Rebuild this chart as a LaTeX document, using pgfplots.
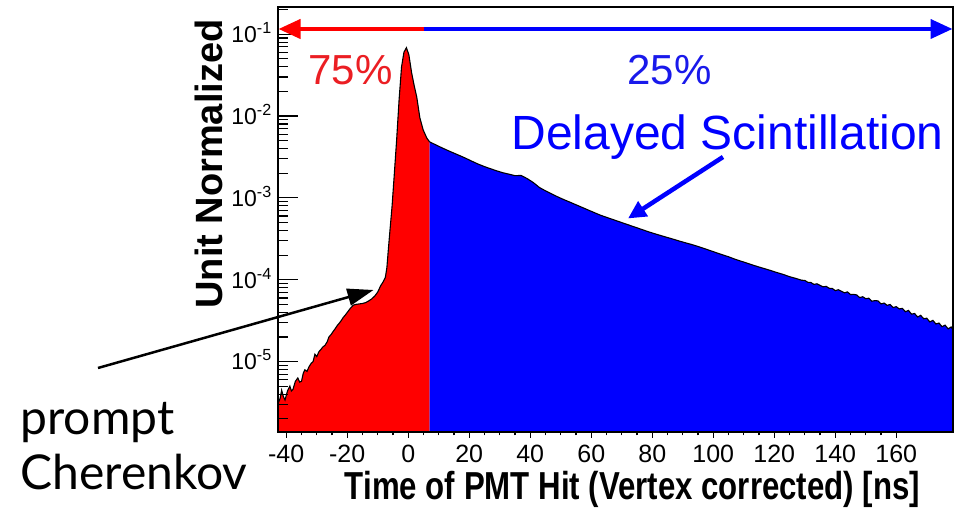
\documentclass[border=0pt]{standalone}
\usepackage{pgfplots}
\pgfplotsset{compat=1.18}
\usepackage{pgfplotstable}
\usepackage{fontspec}
\usetikzlibrary{arrows.meta}
\setmainfont{Liberation Sans}
\newfontfamily\narrowsans[FakeStretch=0.80]{Liberation Sans}
\newfontfamily\humanist{Lato}

\definecolor{histred}{RGB}{255,0,0}
\definecolor{histblue}{RGB}{0,0,255}
\definecolor{labelred}{RGB}{235,30,35}
\definecolor{labelblue}{RGB}{25,25,235}

% prompt part of the hit-time distribution (up to 7 ns)
\pgfplotstableread{
t v
-42.7 3.09e-6
-42.0 3.55e-6
-41.5 4.47e-6
-41.0 3.80e-6
-40.4 3.39e-6
-39.6 4.37e-6
-38.8 5.01e-6
-38.3 4.37e-6
-37.8 4.57e-6
-37.0 5.75e-6
-36.2 6.31e-6
-35.6 5.62e-6
-35.0 5.75e-6
-34.4 7.24e-6
-33.9 7.94e-6
-33.2 7.59e-6
-32.5 8.71e-6
-31.8 9.55e-6
-31.2 1.00e-5
-30.6 1.23e-5
-30.0 1.15e-5
-29.3 1.32e-5
-28.6 1.41e-5
-28.0 1.51e-5
-27.3 1.58e-5
-26.6 1.74e-5
-26.0 2.00e-5
-25.3 2.14e-5
-24.6 2.34e-5
-24.0 2.51e-5
-23.3 2.75e-5
-22.6 2.95e-5
-22.0 3.16e-5
-21.3 3.47e-5
-20.6 3.72e-5
-20.0 3.98e-5
-19.0 4.47e-5
-18.0 4.90e-5
-17.0 5.01e-5
-16.0 5.07e-5
-15.0 5.13e-5
-14.0 5.25e-5
-13.0 5.50e-5
-12.0 5.82e-5
-11.0 6.31e-5
-10.0 7.08e-5
-9.0 8.51e-5
-8.3 9.33e-5
-7.5 1.07e-4
-7.0 1.41e-4
-6.5 2.40e-4
-6.0 3.98e-4
-5.3 7.94e-4
-4.7 1.66e-3
-3.8 5.13e-3
-3.0 1.58e-2
-2.2 3.98e-2
-1.4 6.03e-2
-0.6 6.84e-2
0.2 5.62e-2
1.1 3.39e-2
1.9 2.40e-2
2.8 1.70e-2
3.8 9.55e-3
4.9 6.76e-3
6.1 5.37e-3
7.0 4.84e-3
}\promptdata

% delayed part of the hit-time distribution (from 7 ns)
\pgfplotstableread{
t v
7 4.84e-3
9 4.45e-3
11 4.10e-3
13 3.79e-3
15 3.52e-3
17 3.27e-3
19 3.03e-3
21 2.79e-3
23 2.58e-3
25 2.41e-3
27 2.27e-3
29 2.14e-3
31 2.03e-3
33 1.95e-3
35 1.87e-3
37 1.88e-3
39 1.72e-3
41 1.54e-3
43 1.34e-3
45 1.22e-3
47 1.12e-3
49 1.03e-3
51 9.53e-4
53 8.87e-4
55 8.24e-4
57 7.66e-4
59 7.11e-4
61 6.61e-4
63 6.15e-4
65 5.79e-4
67 5.46e-4
69 5.14e-4
71 4.85e-4
73 4.57e-4
75 4.31e-4
77 4.06e-4
79 3.83e-4
81 3.63e-4
83 3.45e-4
85 3.28e-4
87 3.12e-4
89 2.96e-4
91 2.82e-4
93 2.69e-4
95 2.55e-4
97 2.41e-4
99 2.27e-4
101 2.14e-4
103 2.02e-4
105 1.91e-4
107 1.79e-4
109 1.69e-4
111 1.60e-4
113 1.51e-4
115 1.43e-4
117 1.36e-4
119 1.29e-4
121 1.22e-4
123 1.16e-4
125 1.09e-4
127 1.04e-4
129 9.86e-5
130 9.82e-5
131 9.31e-5
132 9.26e-5
133 8.77e-5
134 8.93e-5
135 8.55e-5
136 8.18e-5
137 8.31e-5
138 7.87e-5
139 7.84e-5
140 7.35e-5
141 7.55e-5
142 7.23e-5
143 6.92e-5
144 7.10e-5
145 6.60e-5
146 6.63e-5
147 6.53e-5
148 6.05e-5
149 6.20e-5
150 5.87e-5
151 5.95e-5
152 5.47e-5
153 5.56e-5
154 5.52e-5
155 5.06e-5
156 5.19e-5
157 4.87e-5
158 4.99e-5
159 4.58e-5
160 4.69e-5
161 4.40e-5
162 4.47e-5
163 4.07e-5
164 4.22e-5
165 3.80e-5
166 3.87e-5
167 3.51e-5
168 3.67e-5
169 3.34e-5
170 3.39e-5
171 3.05e-5
172 3.19e-5
173 2.88e-5
174 2.96e-5
175 2.67e-5
176 2.79e-5
177 2.51e-5
178 2.65e-5
178.6 2.45e-5
}\delayeddata

\begin{document}
\begin{tikzpicture}
\useasboundingbox (-278pt,-78pt) rectangle (677pt,432pt);

\begin{semilogyaxis}[
  scale only axis, width=675pt, height=425pt,
  at={(0pt,0pt)}, anchor=south west,
  xmin=-42.7, xmax=178.6, ymin=1.38e-6, ymax=0.2149,
  log origin y=infty,
  axis on top,
  axis line style={line width=1.4pt},
  xtick=\empty,
  ytick={1e-5,1e-4,1e-3,1e-2,1e-1},
  yticklabels={10\textsuperscript{-5},10\textsuperscript{-4},10\textsuperscript{-3},10\textsuperscript{-2},10\textsuperscript{-1}},
  minor ytick={2e-6,3e-6,4e-6,5e-6,6e-6,7e-6,8e-6,9e-6,
               2e-5,3e-5,4e-5,5e-5,6e-5,7e-5,8e-5,9e-5,
               2e-4,3e-4,4e-4,5e-4,6e-4,7e-4,8e-4,9e-4,
               2e-3,3e-3,4e-3,5e-3,6e-3,7e-3,8e-3,9e-3,
               2e-2,3e-2,4e-2,5e-2,6e-2,7e-2,8e-2,9e-2,2e-1},
  ytick pos=left,
  tick align=inside,
  major tick length=20pt, minor tick length=10pt,
  tick style={black, line width=1.2pt},
  yticklabel style={font=\fontsize{23}{23}\selectfont, anchor=base east,
                    inner sep=0pt, xshift=-6pt, yshift=-8.3pt},
]
\addplot[draw=none, fill=histred, mark=none] table[x=t, y=v] {\promptdata} \closedcycle;
\addplot[draw=none, fill=histblue, mark=none] table[x=t, y=v] {\delayeddata} \closedcycle;
\addplot[black, line width=1.1pt, mark=none] table[x=t, y=v] {\promptdata};
\addplot[black, line width=1.1pt, mark=none] table[x=t, y=v] {\delayeddata};
\end{semilogyaxis}

% time axis with outward ticks
\begin{axis}[
  scale only axis, width=675pt, height=425pt,
  at={(0pt,0pt)}, anchor=south west,
  xmin=-42.7, xmax=178.6, ymin=0, ymax=1,
  hide y axis,
  axis x line*=bottom,
  axis line style={line width=1.4pt, -},
  xtick={-40,-20,...,160}, minor x tick num=3,
  tick align=outside,
  major tick length=6pt, minor tick length=3.5pt,
  tick style={black, line width=1.2pt},
  /pgf/number format/assume math mode=true,
  xticklabel style={font=\fontsize{25}{25}\selectfont, inner sep=0pt, yshift=-7pt},
]
\end{axis}

% annotations, placed in picture units (1pt per unit, y downwards)
\begin{scope}[x=1pt, y=-1pt, shift={(-278pt,432pt)}]
  \draw[histred, line width=4pt, -{Triangle[length=22pt,width=19pt]}] (426,29) -- (278.5,29);
  \draw[histblue, line width=4pt, -{Triangle[length=22pt,width=19pt]}] (424,29) -- (952.5,29);
  \node[anchor=base west, text=labelred, font=\fontsize{42}{42}\selectfont] at (305,85) {75\%};
  \node[anchor=base west, text=labelblue, font=\fontsize{42}{42}\selectfont] at (624,85) {25\%};
  \node[anchor=base west, text=histblue, font=\fontsize{48}{48}\selectfont] at (508,150) {Delayed Scintillation};
  \draw[histblue, line width=4.5pt, -{Triangle[length=18pt,width=17pt]}] (723,157) -- (628,218.5);
  \draw[black, line width=2.5pt, -{Triangle[length=26pt,width=17pt]}] (98,368) -- (373.5,290);
  \node[anchor=base west, font=\humanist\fontsize{48}{48}\selectfont] at (17,435) {prompt};
  \node[anchor=base west, font=\humanist\fontsize{48}{48}\selectfont] at (17,490) {Cherenkov};
  \node[rotate=90, anchor=base, font=\fontsize{38}{38}\selectfont\bfseries] at (223,164) {Unit Normalized};
  \node[anchor=base, font=\narrowsans\fontsize{39}{39}\selectfont\bfseries] at (632.5,500) {Time of PMT Hit (Vertex corrected) [ns]};
\end{scope}
\end{tikzpicture}
\end{document}
